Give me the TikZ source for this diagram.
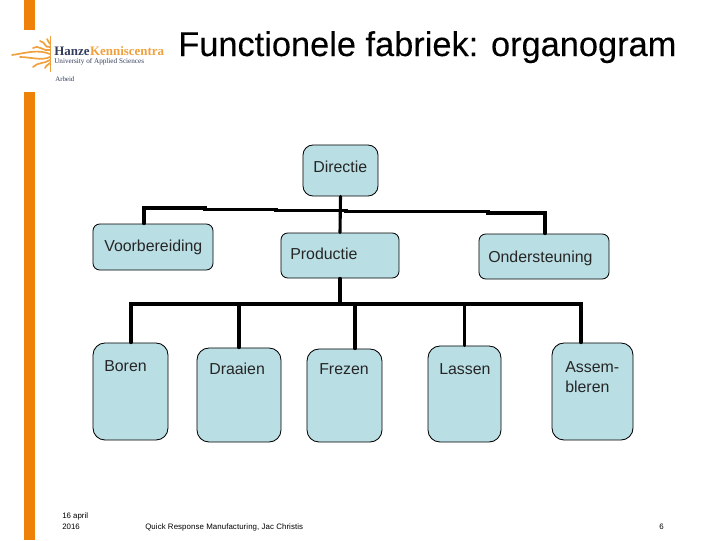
\documentclass[tikz,border=0pt]{standalone}
\usepackage{fontspec}
\setmainfont{Liberation Sans}
\newfontfamily\logofont{Liberation Serif}
\usetikzlibrary{calc}
\definecolor{boxfill}{RGB}{185,222,228}
\definecolor{barorange}{RGB}{238,130,8}
\definecolor{logoorange}{RGB}{240,160,60}
\definecolor{logoblue}{RGB}{50,60,90}

\tikzset{
    orgbox/.style={draw=black, line width=0.6pt, fill=boxfill, rounded corners=0.17cm, inner sep=0pt},
    tallbox/.style={orgbox, rounded corners=0.3cm},
    orgtext/.style={font=\fontsize{11.3}{13.6}\selectfont, text=black!85, align=left, inner sep=0pt},
    orgline/.style={line width=2.2pt, line cap=round},
    foottext/.style={font=\fontsize{5.6}{7.2}\selectfont, align=left, inner sep=0pt},
    logoleaf/.style={logoorange, line width=1.2pt, line cap=round}
}

\begin{document}
\begin{tikzpicture}[x=0.025cm,y=-0.025cm]
        \useasboundingbox (0,0) rectangle (720,540);

        % orange bar
        \fill[barorange] (24,0) rectangle (35,30);
        \fill[barorange] (24,92) rectangle (35,540);

        % logo
        \draw[logoorange, line width=0.5pt] (50.5,36) -- (50.5,72);
        \draw[logoleaf] (50,54) .. controls (38,49) and (26,53) .. (12,55);
        \draw[logoleaf] (50,50) .. controls (44,52) and (38,44) .. (33,48);
        \draw[logoleaf] (50,47) .. controls (44,48) and (46,42) .. (40,41);
        \draw[logoleaf] (50,44) .. controls (49,44) and (49,41) .. (47,39);
        \draw[logoleaf] (50,57) .. controls (42,61) and (30,57) .. (20,57);
        \draw[logoleaf] (50,60) .. controls (44,64) and (38,62) .. (33,67);
        \draw[logoleaf] (50,63) .. controls (47,66) and (46,65) .. (45,68);
        \node[anchor=base west, inner sep=0pt, font=\logofont\bfseries\fontsize{9.2}{11}\selectfont, text=logoblue] (hanze) at (54,55) {Hanze};
        \node[anchor=base west, inner sep=0pt, font=\logofont\bfseries\fontsize{9.2}{11}\selectfont, text=logoorange] (kennis) at (hanze.base east) {Kenniscentra};
        \node[anchor=base west, inner sep=0pt, font=\logofont\fontsize{5.1}{6}\selectfont, text=logoblue] (university) at (54,63.5) {University of Applied Sciences};
        \node[anchor=base west, inner sep=0pt, font=\logofont\fontsize{4.9}{6}\selectfont, text=logoblue] (arbeid) at (55,81.5) {Arbeid};

        % title
        \node[anchor=base west, inner sep=0pt, font=\fontsize{24.45}{28}\selectfont\addfontfeature{FakeBold=0.15}] (title) at (178,56) {Functionele fabriek: organogram};

        % boxes
        \node[orgbox, rounded corners=0.25cm, minimum width=1.875cm, minimum height=1.275cm] (directie) at (340.5,170.5) {};
        \node[orgbox, minimum width=3cm, minimum height=1.15cm] (voorbereiding) at (153,247) {};
        \node[orgbox, minimum width=2.95cm, minimum height=1.125cm] (productie) at (340,255.5) {};
        \node[orgbox, minimum width=3.25cm, minimum height=1.125cm] (ondersteuning) at (544,256.5) {};
        \node[tallbox, minimum width=1.875cm, minimum height=2.425cm] (boren) at (130.5,391.5) {};
        \node[tallbox, minimum width=2.1cm, minimum height=2.35cm] (draaien) at (239,395) {};
        \node[tallbox, minimum width=1.875cm, minimum height=2.325cm] (frezen) at (344.5,395.5) {};
        \node[tallbox, minimum width=1.825cm, minimum height=2.4cm] (lassen) at (464.5,394) {};
        \node[tallbox, minimum width=2.025cm, minimum height=2.425cm] (assembleren) at (592.5,391.5) {};

        % texts
        \node[orgtext, anchor=base west] (tdirectie) at (313,172) {Directie};
        \node[orgtext, anchor=base west] (tvoorbereiding) at (104,251) {Voorbereiding};
        \node[orgtext, anchor=base west] (tproductie) at (290,259) {Productie};
        \node[orgtext, anchor=base west] (tondersteuning) at (488,262) {Ondersteuning};
        \node[orgtext, anchor=base west] (tboren) at (104,371) {Boren};
        \node[orgtext, anchor=base west] (tdraaien) at (209,374) {Draaien};
        \node[orgtext, anchor=base west] (tfrezen) at (319,374) {Frezen};
        \node[orgtext, anchor=base west] (tlassen) at (439,374) {Lassen};
        \node[orgtext, anchor=base west] (tassem) at (565,392) {Assem-\\bleren};

        % connectors
        \coordinate (busleft) at (144,208);
        \coordinate (busright) at (545,213);
        \coordinate (lowleft) at (131,304);
        \coordinate (lowright) at (581,304);
        \coordinate (lowfrezen) at (355,304);

        \draw[orgline] (directie.south) -- (productie.north);
        \draw[orgline] (voorbereiding.north -| busleft) -- (busleft) -- (205,208) -- (205,209.5) -- (276,209.5) -- (276,210.5) -- (346,210.5) -- (346,211.5) -- (488,211.5) -- (488,213) -- (busright) -- (ondersteuning.north -| busright);
        \draw[orgline] (productie.south) -- (productie.south |- lowleft);
        \draw[orgline] (boren.north -| lowleft) -- (lowleft) -- (lowright) -- (assembleren.north -| lowright);
        \draw[orgline] (draaien.north) -- (draaien.north |- lowleft);
        \draw[orgline] (frezen.north -| lowfrezen) -- (lowfrezen);
        \draw[orgline] (lassen.north) -- (lassen.north |- lowleft);

        % footer
        \node[foottext, anchor=base west] (date) at (62,529) {16 april\\2016};
        \node[foottext, anchor=base west] (footer) at (145,529) {\addfontfeature{LetterSpace=1}Quick Response Manufacturing, Jac Christis};
        \node[foottext, anchor=base west] (pagenr) at (659,529) {6};
\end{tikzpicture}
\end{document}
